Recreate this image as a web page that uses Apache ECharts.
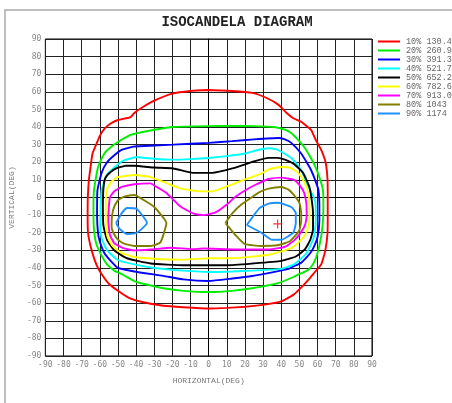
<!DOCTYPE html>
<html><head><meta charset="utf-8">
<script src="https://cdn.jsdelivr.net/npm/echarts@6/dist/echarts.min.js"></script>
<style>html,body{margin:0;padding:0;background:#fff;overflow:hidden}#c{width:452px;height:403px}</style>
</head><body><div id="c"></div><script>
// ---- data (degrees) ----
const axisMin = -90, axisMax = 90, axisStep = 10;
const levelNames = ['10% 130.4','20% 260.9','30% 391.3','40% 521.7','50% 652.2','60% 782.6','70% 913.0','80% 1043','90% 1174'];
const maxPoint = [[38,-15]];

const c10 = [[0,61],[13,60.5],[24,59.4],[32,56.5],[38.5,52.6],[43,48],[46.6,45],[51,43],[56.4,38.4],[59,32.7],[62,27],[64.5,19.6],[65.5,10],[65.6,0],[65.6,-10],[65.5,-20],[64.3,-30],[62,-38],[58,-43],[55.5,-46],[52,-50],[47,-55],[40,-59],[30,-61],[20,-62],[10,-62.7],[0,-63],[-14,-62.3],[-25,-61.5],[-36,-59.5],[-44,-57],[-50,-53],[-55,-49],[-58,-45],[-61,-40],[-63,-35],[-65,-28],[-66.5,-20],[-66.7,-10],[-66.6,0],[-66,10],[-65,18],[-64,25],[-62,30],[-60,35],[-57.5,39],[-54,42],[-50,44],[-43,45.7],[-41,48],[-36,51.5],[-30,55],[-20,59],[-10,60.5],[0,61]];
const c20 = [[0,40.5],[13,40.6],[25,40.5],[36,40],[42,38.5],[45.5,36.6],[49,33],[52.6,28.7],[56,23],[59,17],[61.5,10],[63,4],[63.2,-5],[63,-13],[62,-22],[60,-31.5],[58,-37],[55,-41],[51,-43],[47,-45],[40,-48],[30,-50.5],[24,-51.5],[13,-53],[0,-53.7],[-14,-53],[-25,-51.5],[-36,-49],[-41,-47.5],[-47,-44],[-52,-41.5],[-56,-38],[-59,-33],[-62,-26],[-63.3,-17],[-63.5,-5],[-63.2,4],[-62,12],[-61,17],[-57.5,25],[-54,28.5],[-50,31.5],[-43,35.5],[-35,37.5],[-20,40],[0,40.5]];
const c30 = [[-41,29],[-30,29.5],[-19.5,30],[0,31],[13,32],[25,33],[38.5,33.8],[42,33],[45.5,31],[51,25],[54,20],[56.4,15.6],[59,9],[60.5,4],[61,-5],[61,-13],[60,-22.4],[58,-28],[56,-31.5],[51,-37],[47,-39],[44,-40.5],[35,-42.5],[24,-44.6],[13,-46],[0,-47.4],[-14,-46.5],[-25,-44.5],[-41,-42],[-50,-40],[-54,-36],[-57.5,-31.5],[-60,-25],[-61,-20],[-61.5,-10],[-61.3,4],[-59,14],[-56,20],[-52,24],[-48,27],[-41,29]];
const c40 = [[-40,23],[-30,22],[-20,21.5],[-10,21.8],[0,22.4],[10,23.5],[20,25],[27,27],[33,28],[37,27.5],[40,26],[45.5,22.4],[51,15.6],[55,6],[58,0],[59,-5],[59,-13],[58,-22.4],[54,-31.5],[50,-35.5],[47,-38],[40,-40.5],[24,-41.5],[13,-42],[0,-42.3],[-14,-41.5],[-30,-40],[-41,-38],[-50,-35.5],[-56,-30],[-59,-23],[-59.7,-16],[-59.5,-5],[-59,4],[-56,13],[-52,17],[-47,21],[-40,23]];
const c50 = [[-46,18],[-41,18],[-30,17],[-19.5,16.5],[-8.7,14],[2,14],[13,16.5],[25,20.5],[33,22.5],[38,22.5],[42,21.5],[47,19],[52,14],[55.5,6],[57,-3],[57.5,-9],[57.5,-18],[56,-24],[53,-29.5],[48,-33.5],[40,-36],[24,-37.5],[10,-38.5],[-3,-38.5],[-14,-38.5],[-32,-37.5],[-45,-34.5],[-52,-30],[-56,-24],[-58,-16],[-58.3,-5],[-58,5],[-57,11],[-54,14.5],[-50.4,16.8],[-46,18]];
const c60 = [[-50.4,11.6],[-41,12.8],[-32,11.6],[-23,8],[-15,5],[-5,3.5],[2,3.5],[13,7.5],[22,11],[29,13.5],[33,16],[40,17.3],[45,16.8],[49.3,14],[52.5,9],[54.8,3],[55.5,-5],[55.5,-12],[54.5,-18],[52.6,-22],[49,-26],[45,-29],[33,-32.5],[15,-34.4],[0,-34.5],[-14,-35.3],[-30,-34.8],[-41,-33.8],[-48,-31.5],[-53,-27.5],[-55.8,-22],[-56.7,-14],[-56.7,-5],[-56.2,4.3],[-54,8.5],[-50.4,11.6]];
const c70 = [[-48,6],[-41,7.5],[-32,8],[-28.7,6],[-23.3,2.6],[-15.7,-5],[-8.7,-9],[-3,-10],[3.8,-8.5],[10,-4],[14.6,0.3],[20,4],[25.5,7.1],[33,10.5],[40,11.3],[47,10],[50.5,6.5],[52.6,2.6],[53.8,-3],[54,-9],[53.3,-15],[51,-19.5],[47,-24.5],[42,-28],[33,-29.5],[15,-29.5],[-3,-29],[-9,-29.3],[-21,-28.5],[-32,-29.5],[-41,-30],[-47,-28.8],[-52,-26],[-54.5,-21],[-55.3,-13],[-55,-5],[-54.3,0.3],[-52,3.5],[-48,6]];
const c80a = [[-50,-1.4],[-46.6,0.5],[-41,1.4],[-35.8,-1.4],[-30,-5.4],[-23.3,-14.5],[-26.6,-25.5],[-32,-27.5],[-41,-27.5],[-47,-26],[-50.4,-23.5],[-52.5,-20],[-53.5,-16.8],[-53.2,-10],[-52,-5],[-50,-1.4]];
const c80b = [[9.2,-14.5],[13,-9],[18,-4],[24,0.3],[28,3],[33,5],[40,6],[44,4.5],[47,1.4],[50,-3],[51,-8.8],[51,-13],[50,-18.5],[47,-22.5],[44.5,-25],[38.5,-27],[29,-27.5],[20,-26.5],[15.7,-22.4],[9.2,-14.5]];
const c90a = [[-51,-14.5],[-48,-9],[-45,-6],[-39.6,-6.5],[-34,-14.5],[-39.6,-20],[-45,-20.7],[-49,-18],[-51,-14.5]];
const c90b = [[21,-15.6],[28,-6],[33,-3.5],[38.5,-3],[45.5,-5.4],[48,-8.8],[48,-14.5],[46.6,-20],[40,-24],[34.7,-24],[29,-20],[21,-15.6]];

// ---- chart ----
const colors = ['#ff0000','#00ee00','#0000ff','#00ffff','#000000','#ffff00','#ff00ff','#808000','#1e90ff'];
const contourSets = [[c10],[c20],[c30],[c40],[c50],[c60],[c70],[c80a,c80b],[c90a,c90b]];
const series = [];
contourSets.forEach((set, i) => {
  set.forEach(pts => {
    series.push({
      type: 'line', name: levelNames[i], data: pts, showSymbol: false, symbol: 'none',
      smooth: 0.15, color: colors[i],
      lineStyle: { color: colors[i], width: 1.9 }, silent: true, z: 3
    });
  });
});
series.push({
  type: 'scatter', data: maxPoint, symbol: 'path://M0,5L10,5M5,0L5,10', symbolSize: 9,
  itemStyle: { color: 'rgba(0,0,0,0)', borderColor: '#ff0000', borderWidth: 1.2 }, z: 5, silent: true
});

const mono = 'Liberation Mono, DejaVu Sans Mono, monospace';
const chart = echarts.init(document.getElementById('c'), null, { renderer: 'canvas' });
chart.setOption({
  animation: false,
  backgroundColor: '#fff',
  title: { text: 'ISOCANDELA DIAGRAM', left: 232, top: 10, textAlign: 'center',
    textStyle: { fontFamily: mono, fontWeight: 'bold', fontSize: 14, color: '#222' } },
  legend: {
    data: levelNames, orient: 'vertical', left: 378, top: 37, itemWidth: 22, itemHeight: 2,
    itemGap: 0, icon: 'rect', padding: 0,
    textStyle: { fontFamily: mono, fontSize: 8.5, color: '#666', lineHeight: 8.6, padding: [0,0,0,1] }
  },
  graphic: [{ type: 'rect', shape: { x: 5, y: 10, width: 470, height: 420 },
    style: { fill: 'none', stroke: '#aaa', lineWidth: 1.5 }, silent: true }],
  grid: { left: 40, right: 80, top: 39, bottom: 47, show: true, borderColor: '#000', borderWidth: 1 },
  xAxis: {
    type: 'value', min: axisMin, max: axisMax, interval: axisStep,
    name: 'HORIZONTAL(DEG)', nameLocation: 'middle', nameGap: 21,
    nameTextStyle: { fontFamily: mono, fontSize: 8, color: '#777' },
    axisLine: { lineStyle: { color: '#000' } }, axisTick: { show: false },
    axisLabel: { fontFamily: 'DejaVu Sans Mono', fontSize: 8, color: '#888', margin: 5 },
    splitLine: { lineStyle: { color: '#222', width: 1 } }
  },
  yAxis: {
    type: 'value', min: axisMin, max: axisMax, interval: axisStep,
    name: 'VERTICAL(DEG)', nameLocation: 'middle', nameGap: 21,
    nameTextStyle: { fontFamily: mono, fontSize: 8, color: '#777' },
    axisLine: { lineStyle: { color: '#000' } }, axisTick: { show: false },
    axisLabel: { fontFamily: 'DejaVu Sans Mono', fontSize: 8, color: '#888', margin: 4 },
    splitLine: { lineStyle: { color: '#222', width: 1 } }
  },
  series: series
});
</script></body></html>
